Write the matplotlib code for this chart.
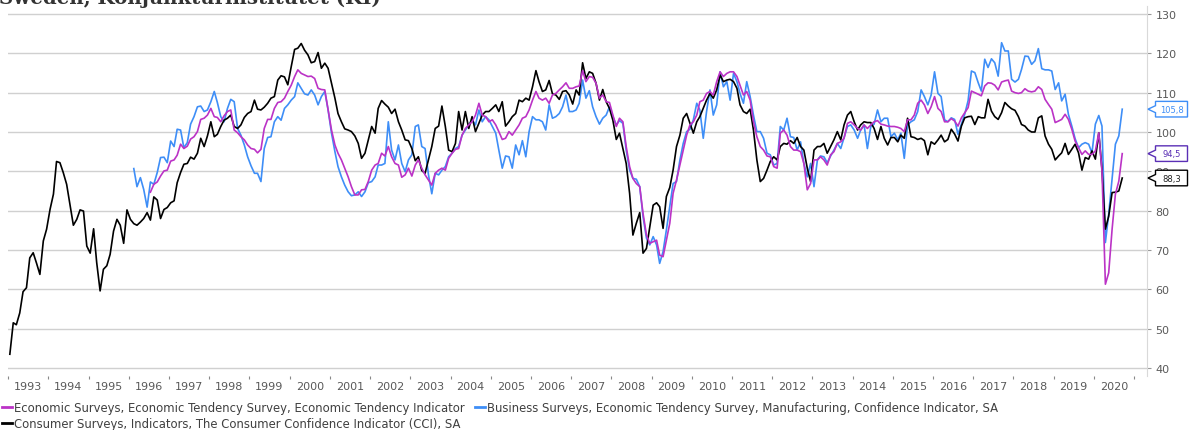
import matplotlib
matplotlib.use("Agg")
import matplotlib.pyplot as plt
import matplotlib.dates as mdates
from matplotlib.lines import Line2D
from matplotlib.patches import Polygon
from matplotlib.transforms import IdentityTransform
import pandas as pd

# Economic Tendency Indicator, from 1996-07
eti_start = "1996-07"
eti_values = [
    84.7, 86.7, 87.3, 88.8, 90.1, 90.3,
    92.6, 92.9, 94.1, 96.9, 95.8, 96.4, 98.2, 98.8, 100.1, 103.2, 103.5, 104.3,
    106.0, 103.9, 103.7, 102.6, 104.1, 105.2, 105.6, 100.5, 99.8, 98.8, 98.0, 96.7,
    95.8, 95.6, 94.7, 95.6, 100.9, 103.2, 103.2, 106.0, 107.5, 107.7, 108.6, 110.3,
    111.9, 114.1, 115.8, 114.9, 114.5, 114.1, 114.2, 113.6, 111.1, 110.8, 110.7, 105.6,
    100.5, 96.7, 94.6, 92.9, 90.8, 88.6, 86.1, 84.0, 84.0, 85.3, 85.4, 87.4,
    90.3, 91.6, 92.0, 94.6, 93.9, 96.3, 93.7, 92.0, 91.6, 88.5, 89.1, 90.8,
    88.8, 91.6, 92.9, 90.8, 89.1, 87.8, 86.5, 89.5, 90.3, 90.8, 90.3, 93.3,
    94.6, 95.6, 95.8, 99.2, 100.9, 101.8, 102.6, 104.3, 107.3, 104.3, 103.9, 102.6,
    103.1, 101.8, 100.1, 98.1, 98.4, 100.1, 99.2, 100.5, 101.8, 103.5, 103.9, 105.6,
    108.1, 110.3, 108.6, 108.1, 108.6, 107.3, 109.4, 109.8, 110.7, 111.5, 112.5, 111.1,
    111.1, 111.5, 111.7, 115.6, 112.8, 114.1, 113.9, 112.4, 108.6, 109.4, 107.7, 107.5,
    104.3, 101.4, 103.5, 102.6, 96.3, 91.2, 88.2, 86.9, 86.1, 79.3, 73.8, 71.7,
    72.1, 72.5, 68.7, 68.3, 72.5, 76.8, 84.4, 87.8, 91.6, 95.4, 99.2, 101.8,
    102.6, 104.3, 107.7, 108.1, 109.8, 110.3, 109.4, 112.8, 115.3, 114.1, 114.9, 115.3,
    115.3, 114.1, 111.9, 109.4, 110.3, 108.1, 102.6, 98.8, 96.3, 95.4, 93.9, 93.7,
    91.2, 90.8, 99.7, 100.5, 99.2, 96.3, 95.4, 95.4, 95.0, 92.0, 85.3, 86.9,
    92.9, 92.9, 93.7, 92.9, 91.6, 94.2, 95.0, 97.1, 97.5, 98.4, 102.2, 102.6,
    101.8, 100.9, 100.5, 101.8, 100.9, 101.8, 102.6, 102.9, 102.0, 101.8, 101.5, 101.4,
    101.4, 101.2, 100.9, 100.1, 103.1, 103.1, 104.3, 107.3, 108.1, 106.9, 104.7, 106.4,
    109.0, 106.0, 105.2, 102.6, 102.6, 103.4, 102.8, 101.5, 103.6, 104.9, 106.2, 110.4,
    110.0, 109.6, 109.2, 111.7, 112.5, 112.4, 111.9, 110.7, 112.7, 113.0, 113.2, 110.4,
    110.0, 109.8, 110.0, 111.0, 110.4, 110.2, 110.4, 111.5, 110.8, 108.3, 107.0, 105.8,
    102.4, 102.8, 103.2, 104.5, 103.2, 100.7, 97.7, 96.0, 94.3, 95.2, 94.3, 94.3,
    95.2, 99.8, 90.0, 61.3, 64.2, 75.3, 84.2, 87.5, 94.5,
]

# Manufacturing confidence indicator, from 1996-02
bci_start = "1996-02"
bci_values = [
    90.7, 86.1, 88.4, 85.4, 80.9, 87.3, 86.7, 89.7, 93.5, 93.6, 92.2,
    97.7, 96.3, 100.7, 100.5, 96.0, 97.3, 102.0, 103.9, 106.4, 106.6, 105.2, 105.6,
    107.7, 110.3, 107.5, 103.9, 102.6, 106.0, 108.3, 107.7, 100.9, 99.2, 96.7, 93.7,
    91.4, 89.5, 89.5, 87.4, 95.8, 98.6, 98.8, 102.6, 103.9, 103.0, 106.0, 106.9,
    108.1, 109.0, 112.5, 111.1, 109.7, 109.4, 110.7, 109.4, 106.9, 109.0, 110.3, 105.6,
    99.7, 95.0, 91.2, 88.6, 86.5, 84.8, 83.8, 84.0, 84.8, 83.6, 84.8, 87.1,
    87.4, 88.6, 91.6, 91.6, 92.0, 102.6, 95.4, 92.9, 96.7, 92.0, 89.9, 92.9,
    94.2, 101.4, 101.8, 96.3, 95.8, 89.1, 84.3, 89.5, 89.1, 90.3, 91.2, 93.7,
    94.6, 95.8, 96.3, 99.2, 100.5, 101.8, 103.1, 101.8, 105.6, 102.6, 103.9, 103.1,
    101.4, 99.7, 95.4, 90.8, 93.9, 93.7, 90.8, 96.7, 94.2, 97.8, 93.7, 100.1,
    103.9, 103.1, 103.1, 102.6, 100.5, 106.9, 103.5, 103.9, 104.7, 106.4, 109.4, 105.2,
    105.2, 105.6, 107.3, 113.2, 108.6, 110.5, 106.4, 103.9, 102.0, 103.5, 104.3, 106.4,
    103.9, 101.8, 102.9, 102.2, 95.4, 90.3, 88.2, 88.0, 86.1, 78.5, 73.0, 71.3,
    73.4, 71.3, 66.6, 69.6, 75.1, 81.0, 86.9, 87.4, 92.9, 97.1, 100.1, 100.7,
    103.1, 107.3, 105.6, 98.4, 105.2, 110.7, 104.3, 106.9, 115.3, 111.5, 112.8, 108.1,
    114.9, 112.8, 109.8, 107.3, 112.8, 109.0, 104.3, 100.1, 100.1, 98.4, 94.6, 94.2,
    91.6, 92.0, 101.4, 100.5, 103.5, 98.8, 98.6, 95.4, 97.5, 92.0, 88.6, 92.0,
    86.1, 92.9, 93.9, 93.7, 92.2, 93.9, 95.4, 97.1, 95.8, 98.6, 101.4, 101.8,
    100.5, 98.4, 100.5, 101.8, 95.8, 101.4, 102.0, 105.6, 102.6, 103.5, 103.5, 98.8,
    99.7, 98.0, 99.7, 93.3, 101.8, 102.6, 103.1, 105.2, 110.7, 109.0, 106.9, 109.4,
    115.3, 109.8, 109.0, 103.1, 102.6, 103.6, 103.2, 99.4, 102.0, 104.5, 108.0, 115.5,
    115.1, 112.5, 110.4, 118.5, 116.4, 118.6, 117.6, 114.2, 122.7, 120.6, 120.6, 113.4,
    112.7, 113.4, 115.9, 119.3, 119.2, 117.2, 118.1, 121.2, 116.1, 115.8, 115.8, 115.5,
    110.8, 112.5, 107.9, 109.6, 104.5, 101.5, 98.3, 96.0, 96.9, 97.3, 96.9, 94.7,
    102.0, 104.2, 101.5, 71.9, 79.1, 88.0, 96.9, 99.0, 105.8,
]

# Consumer confidence indicator, from 1993-01
cci_start = "1993-01"
cci_values = [
    43.5, 51.5, 51.0, 54.0, 59.4, 60.4, 68.0, 69.3, 66.6, 63.8, 72.3, 75.3,
    80.3, 84.2, 92.5, 92.2, 89.7, 86.7, 81.6, 76.3, 77.8, 80.2, 79.9, 71.0,
    69.2, 75.4, 66.8, 59.6, 65.1, 66.0, 68.9, 74.8, 77.8, 76.3, 71.7, 80.2,
    77.8, 76.7, 76.3, 77.1, 78.0, 79.5, 77.6, 83.5, 82.7, 78.0, 80.3, 80.8,
    82.0, 82.5, 87.1, 89.7, 91.8, 92.0, 93.6, 93.1, 94.6, 98.4, 96.3, 99.0,
    102.6, 98.8, 99.4, 101.4, 103.0, 103.5, 104.3, 101.4, 100.9, 101.8, 103.7, 104.7,
    105.2, 108.1, 105.8, 105.6, 106.3, 107.3, 108.6, 109.0, 113.2, 114.3, 114.0, 112.0,
    116.6, 121.0, 121.3, 122.5, 120.8, 119.6, 117.6, 117.9, 120.2, 116.2, 117.5, 116.2,
    112.4, 108.6, 104.7, 102.6, 100.8, 100.5, 100.1, 99.0, 97.1, 93.3, 94.6, 98.0,
    101.4, 99.7, 106.0, 108.0, 107.1, 106.3, 104.7, 105.8, 102.6, 100.5, 98.0, 97.8,
    95.8, 92.7, 93.7, 90.2, 89.5, 92.9, 96.3, 100.9, 101.5, 106.6, 101.4, 95.4,
    95.0, 97.1, 105.2, 100.5, 105.2, 100.9, 103.9, 100.1, 102.2, 104.3, 105.2, 105.2,
    106.0, 106.9, 105.2, 107.7, 101.5, 102.6, 103.9, 104.7, 108.1, 107.7, 108.6, 108.1,
    111.5, 115.6, 112.8, 110.3, 110.7, 113.1, 109.7, 109.4, 108.3, 110.3, 110.5, 109.4,
    107.1, 110.7, 109.4, 117.6, 113.6, 115.3, 114.9, 112.4, 108.1, 110.8, 107.7, 106.0,
    103.0, 98.1, 99.7, 95.8, 92.0, 84.4, 73.8, 76.8, 79.5, 69.2, 70.4, 75.9,
    81.4, 82.0, 81.0, 75.5, 83.6, 85.9, 90.3, 96.3, 99.2, 103.5, 104.7, 102.2,
    99.7, 102.6, 103.9, 106.0, 108.1, 109.8, 108.6, 110.7, 114.5, 112.8, 113.2, 113.4,
    112.8, 111.1, 106.9, 105.2, 104.7, 105.8, 100.5, 92.9, 87.4, 88.2, 90.3, 92.5,
    93.7, 92.9, 96.3, 97.1, 96.9, 97.8, 97.1, 98.6, 96.3, 95.4, 90.8, 87.4,
    95.4, 96.3, 96.3, 97.1, 94.6, 96.3, 98.0, 100.1, 98.0, 101.8, 104.3, 105.2,
    102.6, 100.5, 101.8, 102.6, 102.4, 102.4, 100.9, 98.1, 101.4, 98.4, 96.7, 98.6,
    98.6, 97.5, 99.2, 98.4, 103.5, 98.8, 98.6, 98.1, 98.4, 97.8, 94.2, 97.5,
    96.9, 98.0, 99.2, 97.5, 98.1, 100.7, 99.5, 97.7, 101.5, 103.6, 103.9, 104.0,
    101.9, 103.9, 103.6, 103.6, 108.3, 105.3, 103.9, 103.2, 104.9, 107.5, 106.6, 105.9,
    105.5, 103.9, 101.9, 101.5, 100.5, 100.0, 100.0, 103.6, 104.1, 99.0, 96.9, 95.6,
    92.9, 93.9, 94.7, 97.1, 94.3, 95.6, 96.9, 94.7, 90.3, 93.5, 93.1, 95.2,
    93.1, 99.8, 90.5, 75.3, 78.6, 84.6, 84.7, 85.0, 88.3,
]

labels = [
    "Economic Surveys, Economic Tendency Survey, Economic Tendency Indicator",
    "Business Surveys, Economic Tendency Survey, Manufacturing, Confidence Indicator, SA",
    "Consumer Surveys, Indicators, The Consumer Confidence Indicator (CCI), SA",
]
last_labels = ["94,5", "105,8", "88,3"]

C_ETI = "#bb33c6"
C_BCI = "#3e8ef7"
C_CCI = "#000000"
C_ETI_BOX = "#5a2fb5"


def monthly(start, values):
    d = pd.date_range(start + "-01", periods=len(values), freq="MS") + pd.Timedelta(days=14)
    return pd.Series(values, index=d)


eti = monthly(eti_start, eti_values)
bci = monthly(bci_start, bci_values)
cci = monthly(cci_start, cci_values)

W, H = 1191, 431
fig = plt.figure(figsize=(W / 100, H / 100), dpi=100)
ax = fig.add_axes([8.3 / W, 1 - 377 / H, (1147 - 8.3) / W, 370 / H])

ax.plot(bci.index, bci.values, color=C_BCI, lw=1.2, zorder=3)
ax.plot(cci.index, cci.values, color=C_CCI, lw=1.2, zorder=4)
ax.plot(eti.index, eti.values, color=C_ETI, lw=1.2, zorder=5)

ax.set_ylim(37.97, 132.03)
ax.set_xlim(pd.Timestamp("1993-01-01"), pd.Timestamp("2021-04-28"))
ax.set_yticks(range(40, 131, 10))
ax.yaxis.tick_right()
ax.grid(axis="y", color="#d0d0d0", lw=1)
ax.set_axisbelow(True)

for s in ["left", "top", "bottom"]:
    ax.spines[s].set_visible(False)
ax.spines["right"].set_color("#d9d9d9")
ax.tick_params(axis="y", which="major", length=3, color="#999999", labelsize=8,
               labelcolor="#595959", pad=3)

ax.xaxis.set_major_locator(mdates.YearLocator())
ax.xaxis.set_major_formatter(plt.NullFormatter())
ax.xaxis.set_minor_locator(mdates.MonthLocator(bymonth=7))
ax.xaxis.set_minor_formatter(mdates.DateFormatter("%Y"))
ax.tick_params(axis="x", which="major", length=2.5, color="#888888", direction="out")
ax.tick_params(axis="x", which="minor", length=0, labelsize=8, labelcolor="#595959", pad=3.5)

# title, partly cut off by the top edge as in the source
fig.text(-0.001, 1 - 4.5 / H, "Sweden, Konjunkturinstitutet (KI)", family="DejaVu Serif",
         fontweight="bold", fontsize=14.2, color="#333333", va="baseline", ha="left")

# end value callouts
fig.canvas.draw()
last_points = [(eti, last_labels[0], C_ETI_BOX, C_ETI_BOX),
               (bci, last_labels[1], C_BCI, C_BCI),
               (cci, last_labels[2], C_CCI, "#222222")]
for ser, txt, edge, tcol in last_points:
    yp = ax.transData.transform((mdates.date2num(ser.index[-1]), ser.values[-1]))[1]
    x0, xb, x1 = 1148, 1155.5, 1187.5
    hh, nh = 7.8, 3.5
    pts = [(x0, yp), (xb, yp + nh), (xb, yp + hh), (x1, yp + hh), (x1, yp - hh),
           (xb, yp - hh), (xb, yp - nh)]
    fig.add_artist(Polygon(pts, closed=True, facecolor="white", edgecolor=edge, lw=1,
                           transform=IdentityTransform(), zorder=6))
    fig.text((xb + x1) / 2, yp, txt, transform=IdentityTransform(), ha="center",
             va="center", fontsize=6, color=tcol, zorder=7)

handles = [Line2D([], [], color=C_ETI, lw=2),
           Line2D([], [], color=C_CCI, lw=2),
           Line2D([], [], color=C_BCI, lw=2)]
fig.legend(handles, [labels[0], labels[2], labels[1]], loc="upper left",
           bbox_to_anchor=(2 / W, 1 - 402 / H), ncol=2, frameon=False, fontsize=8.35,
           handlelength=0.85, handletextpad=0.2, columnspacing=0.85, labelspacing=0.3,
           borderpad=0, borderaxespad=0, labelcolor="#404040")

fig.savefig("out.png", dpi=100)
